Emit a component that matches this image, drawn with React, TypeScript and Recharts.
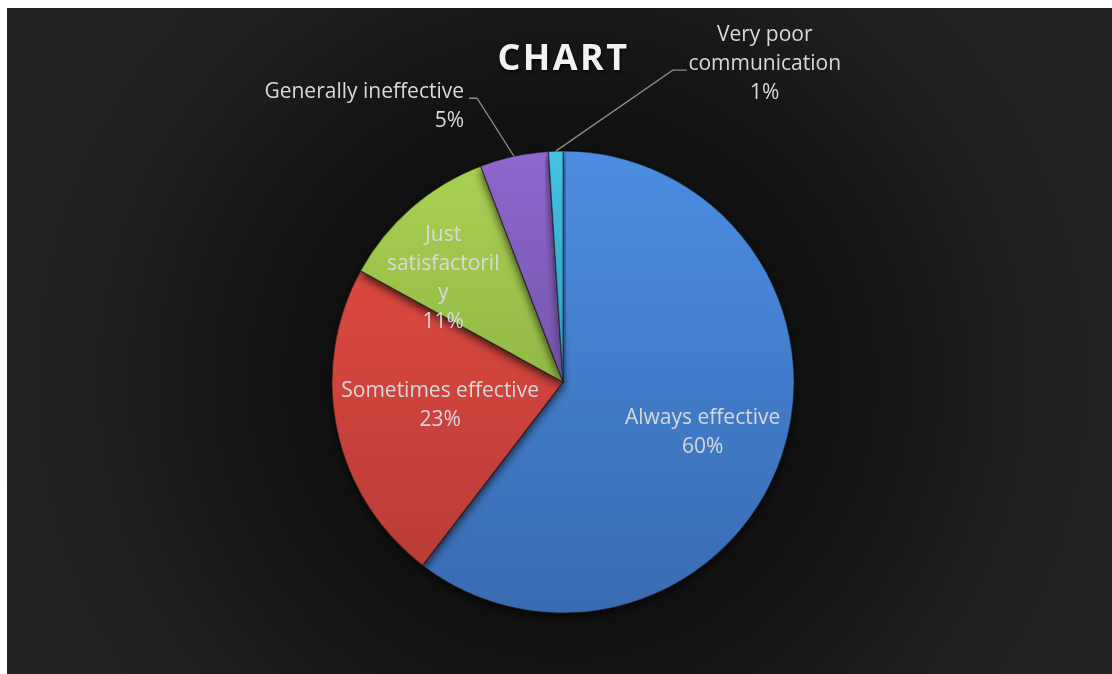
import { Cell, Pie, PieChart } from "recharts";

// Survey shares (labels show the rounded %).
const categories = [
  "Always effective",
  "Sometimes effective",
  "Just satisfactorily",
  "Generally ineffective",
  "Very poor communication",
];
const shares = [60.4, 22.6, 11.2, 4.8, 1.0];

// How each category name wraps in its data label.
const labelRows = [
  ["Always effective"],
  ["Sometimes effective"],
  ["Just", "satisfactoril", "y"],
  ["Generally ineffective"],
  ["Very poor", "communication"],
];

// top / bottom stops of each slice's vertical gradient
const sliceColors = [
  ["#4c8de2", "#396bb2"],
  ["#dc4841", "#b93d38"],
  ["#a8d052", "#92b944"],
  ["#8f67cf", "#7656ad"],
  ["#45c3e4", "#2c9cbf"],
];

const CHART_W = 1105;
const CHART_H = 666;
// PieChart keeps its default 5px margin, so these are offset by it
const CX = 551;
const CY = 369;
const R = 231;
const LABEL_COLOR = "#d9d9d9";
const FONT = "'Open Sans', sans-serif";
const LINE_H = 29;

const data = categories.map((name, i) => ({ name, value: shares[i] }));

// Inside labels sit at (fraction of radius, angle nudge); outside ones get a leader line.
const inside: Record<number, { r: number; shift: number }> = {
  0: { r: 0.64, shift: -0.5 },
  1: { r: 0.54, shift: -2 },
  2: { r: 0.69, shift: 7.7 },
};
const outside: Record<number, { elbow: [number, number]; tail: number; textDx: number; anchor: "end" | "middle"; rowOffset: number }> = {
  3: { elbow: [-37, -58], tail: -8, textDx: -5, anchor: "end", rowOffset: -8 },
  4: { elbow: [117, -81], tail: 14, textDx: 78, anchor: "middle", rowOffset: -8 - LINE_H },
};

const RAD = Math.PI / 180;

function SliceLabel(props: any) {
  const { cx, cy, midAngle, outerRadius, percent, index } = props;
  const rows = [...labelRows[index], `${Math.round(percent * 100)}%`];
  const textProps = {
    fill: LABEL_COLOR,
    fontFamily: FONT,
    fontSize: 21,
    dominantBaseline: "central" as const,
  };

  if (inside[index]) {
    const cfg = inside[index];
    const a = (midAngle + cfg.shift) * RAD;
    const x = cx + outerRadius * cfg.r * Math.cos(a);
    const y = cy - outerRadius * cfg.r * Math.sin(a);
    const top = y - ((rows.length - 1) * LINE_H) / 2;
    return (
      <g>
        {rows.map((row, k) => (
          <text key={k} x={x} y={top + k * LINE_H} textAnchor="middle" {...textProps}>
            {row}
          </text>
        ))}
      </g>
    );
  }

  const cfg = outside[index];
  const a = midAngle * RAD;
  const ex = cx + outerRadius * Math.cos(a);
  const ey = cy - outerRadius * Math.sin(a);
  const bx = ex + cfg.elbow[0];
  const by = ey + cfg.elbow[1];
  const tx = bx + cfg.tail;
  const textX = tx + cfg.textDx;
  const top = by + cfg.rowOffset;
  return (
    <g>
      <polyline points={`${ex},${ey} ${bx},${by} ${tx},${by}`} fill="none" stroke="#8c8c8c" strokeWidth={1.3} />
      {rows.map((row, k) => (
        <text key={k} x={textX} y={top + k * LINE_H} textAnchor={cfg.anchor} {...textProps}>
          {row}
        </text>
      ))}
    </g>
  );
}

export default function App() {
  return (
    <div
      style={{
        position: "fixed",
        left: 7,
        top: 8,
        width: CHART_W,
        height: CHART_H,
        background:
          "radial-gradient(circle at 50.3% 56%, #0e0e0e 0%, #111111 38%, #181818 55%, #1f1f1f 68%, #232323 85%)",
      }}
    >
      <div
        style={{
          position: "absolute",
          left: 4,
          width: CHART_W,
          top: 24,
          textAlign: "center",
          fontFamily: FONT,
          fontWeight: 700,
          fontSize: 36,
          letterSpacing: 2.4,
          color: "#f2f2f2",
          textShadow: "1px 2px 3px rgba(0,0,0,0.8)",
        }}
      >
        CHART
      </div>
      <PieChart width={CHART_W} height={CHART_H} style={{ position: "absolute", left: 0, top: 0 }}>
        <defs>
          {sliceColors.map(([top, bottom], i) => (
            <linearGradient key={i} id={`slice-${i}`} x1="0" y1="0" x2="0" y2="1">
              <stop offset="0%" stopColor={top} />
              <stop offset="100%" stopColor={bottom} />
            </linearGradient>
          ))}
          <filter id="pie-shadow" x="-20%" y="-20%" width="140%" height="140%">
            <feDropShadow dx="0" dy="4" stdDeviation="5" floodColor="#000" floodOpacity="0.7" />
          </filter>
        </defs>
        <Pie
          data={data}
          dataKey="value"
          nameKey="name"
          cx={CX}
          cy={CY}
          outerRadius={R}
          startAngle={90}
          endAngle={-270}
          stroke="rgba(20,20,20,0.55)"
          strokeWidth={1.2}
          label={SliceLabel}
          labelLine={false}
          isAnimationActive={false}
          style={{ filter: "url(#pie-shadow)" }}
        >
          {data.map((d, i) => (
            <Cell key={d.name} fill={`url(#slice-${i})`} />
          ))}
        </Pie>
      </PieChart>
    </div>
  );
}
